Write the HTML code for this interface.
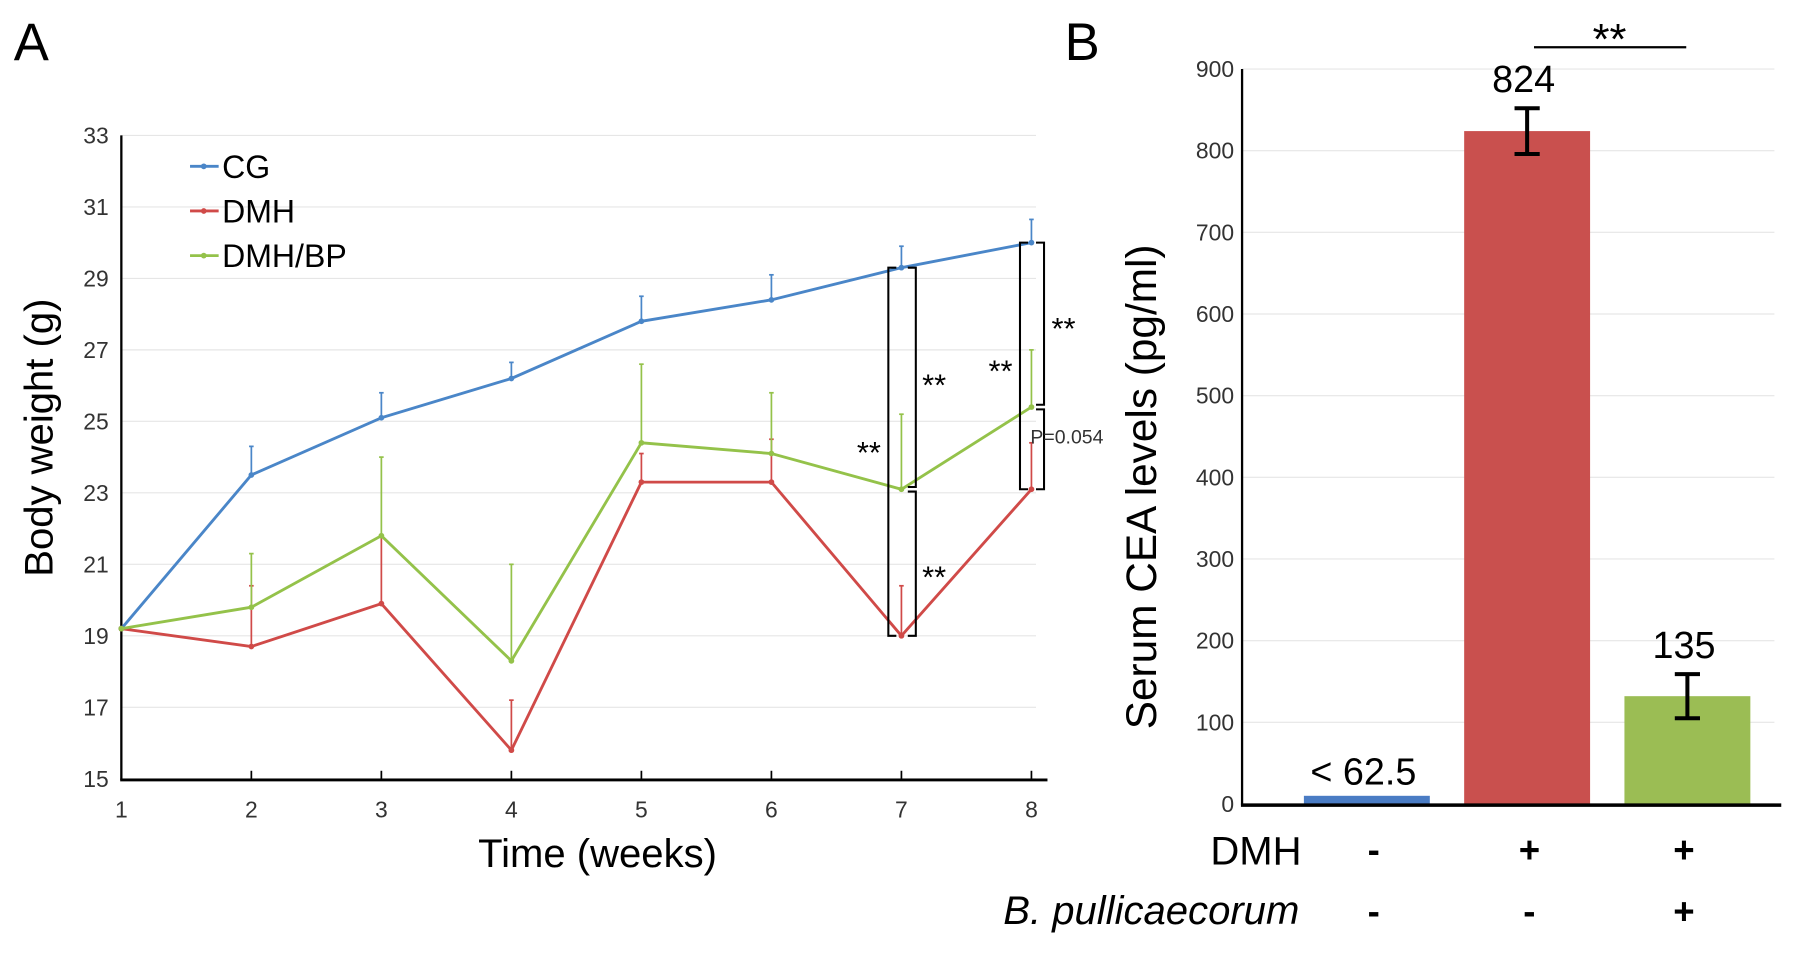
<!DOCTYPE html>
<html><head><meta charset="utf-8"><style>
html,body{margin:0;padding:0;background:#fff;}
svg{display:block;font-family:"Liberation Sans",sans-serif;}
</style></head><body>
<svg id="fig" width="1795" height="960" viewBox="0 0 1568 838">
<text x="12" y="52" font-size="46">A</text>
<text x="930" y="52" font-size="46">B</text>
<g id="pa"></g>
<g id="pb"></g>
</svg>
<script>
const weeks=[1,2,3,4,5,6,7,8];
const yTicksA=[15,17,19,21,23,25,27,29,31,33];
const cgVals=[19.2,23.5,25.1,26.2,27.8,28.4,29.3,30.0];
const cgErr=[0,0.8,0.7,0.45,0.7,0.7,0.6,0.65];
const dmhVals=[19.2,18.7,19.9,15.8,23.3,23.3,19.0,23.1];
const dmhErr=[0,1.7,1.9,1.4,0.8,1.2,1.4,1.3];
const bpVals=[19.2,19.8,21.8,18.3,24.4,24.1,23.1,25.4];
const bpErr=[0,1.5,2.2,2.7,2.2,1.7,2.1,1.6];
const groupsB=["CG","DMH","DMH/BP"];
const ceaVals=[10,824,132];
const ceaErr=[0,28,27];
const ceaLabels=["< 62.5","824","135"];
const yTicksB=[0,100,200,300,400,500,600,700,800,900];
const NS="http://www.w3.org/2000/svg";
function mk(p,t,a,txt){const e=document.createElementNS(NS,t);for(const k in a)e.setAttribute(k,a[k]);if(txt!=null)e.textContent=txt;p.appendChild(e);return e;}
const pa=document.getElementById('pa'),pb=document.getElementById('pb');
const xA=w=>106+(w-1)*(901-106)/7;
const yA=v=>680-(v-15)*(680-118)/18;
yTicksA.forEach(t=>{
 const g=mk(pa,'line',{x1:106,x2:905,y1:yA(t),y2:yA(t),stroke:'#e6e6e6','stroke-width':1});
 
 const l=mk(pa,'text',{x:95,y:yA(t)+7,'font-size':20,'text-anchor':'end',fill:'#333'},t);
 
});
weeks.forEach(w=>{
 const l=mk(pa,'text',{x:xA(w),y:714,'font-size':20,'text-anchor':'middle',fill:'#333'},w);
 
 const tk=mk(pa,'line',{x1:xA(w),x2:xA(w),y1:680,y2:673,stroke:'#000','stroke-width':1.5});
 
});
let ax=mk(pa,'line',{x1:106,x2:106,y1:118,y2:681,stroke:'#000','stroke-width':2});

ax=mk(pa,'line',{x1:105,x2:915,y1:681,y2:681,stroke:'#000','stroke-width':2.5});

let t=mk(pa,'text',{x:0,y:0,'font-size':35,'text-anchor':'middle',transform:'translate(46,382) rotate(-90)'},'Body weight (g)');

t=mk(pa,'text',{x:522,y:757,'font-size':35,'text-anchor':'middle'},'Time  (weeks)');

const series=[["cg",cgVals,cgErr,'#4a86c8'],["dmh",dmhVals,dmhErr,'#d04a48'],["dmh-bp",bpVals,bpErr,'#94c24a']];
series.forEach(([n,vals,err,c])=>{
 vals.forEach((v,i)=>{ if(err[i]>0){
  const e=mk(pa,'line',{x1:xA(weeks[i]),x2:xA(weeks[i]),y1:yA(v),y2:yA(v+err[i]),stroke:c,'stroke-width':1.5});
  
  const cap=mk(pa,'line',{x1:xA(weeks[i])-2,x2:xA(weeks[i])+2,y1:yA(v+err[i]),y2:yA(v+err[i]),stroke:c,'stroke-width':1.5});
  }});
 const p=mk(pa,'polyline',{points:vals.map((v,i)=>xA(weeks[i])+','+yA(v)).join(' '),fill:'none',stroke:c,'stroke-width':2.5});
 
 vals.forEach((v,i)=>{const d=mk(pa,'circle',{cx:xA(weeks[i]),cy:yA(v),r:2.5,fill:c});
  });
});
[["CG",'#4a86c8'],["DMH",'#d04a48'],["DMH/BP",'#94c24a']].forEach(([n,c],i)=>{
 const y=145+i*39;
 const g=mk(pa,'g',{});
 mk(g,'line',{x1:166,x2:191,y1:y,y2:y,stroke:c,'stroke-width':2.5});
 mk(g,'circle',{cx:178,cy:y,r:2.5,fill:c});
 mk(g,'text',{x:194,y:y+10,'font-size':28},n);
});
function br(x,y1,y2,dir){const g=mk(pa,'path',{d:`M${x+dir*7},${y1} H${x} V${y2} H${x+dir*7}`,fill:'none',stroke:'#000','stroke-width':1.8});
 }
br(776,yA(29.3),yA(19.0),1);
br(800,yA(29.3),yA(23.1)-2,-1);br(800,yA(23.1)+2,yA(19.0),-1);
br(891,yA(30.0),yA(23.1),1);
br(912,yA(30.0),yA(25.4)-2,-1);br(912,yA(25.4)+2,yA(23.1),-1);
[[816,345],[816,513],[759,404],[929,296],[874,333]].forEach(([x,y])=>{
 const s=mk(pa,'text',{x:x,y:y,'font-size':27,'text-anchor':'middle'},'**');
 });
t=mk(pa,'text',{x:932,y:387,'font-size':17,'text-anchor':'middle',fill:'#333'},'P=0.054');

const yB=v=>702-v*(702-60)/900;
const xB=i=>1194+i*140;
yTicksB.forEach(tk=>{
 const g=mk(pb,'line',{x1:1085,x2:1550,y1:yB(tk),y2:yB(tk),stroke:'#e6e6e6','stroke-width':1});
 
 const l=mk(pb,'text',{x:1078,y:yB(tk)+7,'font-size':20,'text-anchor':'end',fill:'#333'},tk);
 
});
const colB=['#4a7cc4','#c9504e','#9bbd54'];
ceaVals.forEach((v,i)=>{
 const b=mk(pb,'rect',{x:xB(i)-55,y:yB(v),width:110,height:yB(0)-yB(v),fill:colB[i]});
 
 if(ceaErr[i]>0){
  const g=mk(pb,'path',{d:`M${xB(i)},${yB(v+ceaErr[i])} V${yB(v-ceaErr[i])} M${xB(i)-11},${yB(v+ceaErr[i])} H${xB(i)+11} M${xB(i)-11},${yB(v-ceaErr[i])} H${xB(i)+11}`,stroke:'#000','stroke-width':3.5,fill:'none'});
  }
 const l=mk(pb,'text',{x:xB(i)-3,y:yB(Math.max(v,0)+(ceaErr[i]||0))-(i==0?10:14),'font-size':33,'text-anchor':'middle'},ceaLabels[i]);
 
});
ax=mk(pb,'line',{x1:1085,x2:1085,y1:60,y2:703,stroke:'#000','stroke-width':2});

ax=mk(pb,'line',{x1:1084,x2:1556,y1:703,y2:703,stroke:'#000','stroke-width':3});

t=mk(pb,'text',{x:0,y:0,'font-size':37,'text-anchor':'middle',transform:'translate(1010,425) rotate(-90)'},'Serum CEA levels (pg/ml)');

let s=mk(pb,'line',{x1:1340,x2:1473,y1:41,y2:41,stroke:'#000','stroke-width':2});

s=mk(pb,'text',{x:1406,y:47,'font-size':38,'text-anchor':'middle'},'**');

t=mk(pb,'text',{x:1137,y:755,'font-size':35,'text-anchor':'end'},'DMH');

t=mk(pb,'text',{x:1135,y:807,'font-size':35,'text-anchor':'end','font-style':'italic'},'B. pullicaecorum');

[['-','+','+'],['-','-','+']].forEach((row,r)=>row.forEach((c,i)=>{
 const m=mk(pb,'text',{x:[1200,1336,1471][i],y:r?807:753,'font-size':32,'text-anchor':'middle','font-weight':'bold'},c);
 }));
</script>
</body></html>
